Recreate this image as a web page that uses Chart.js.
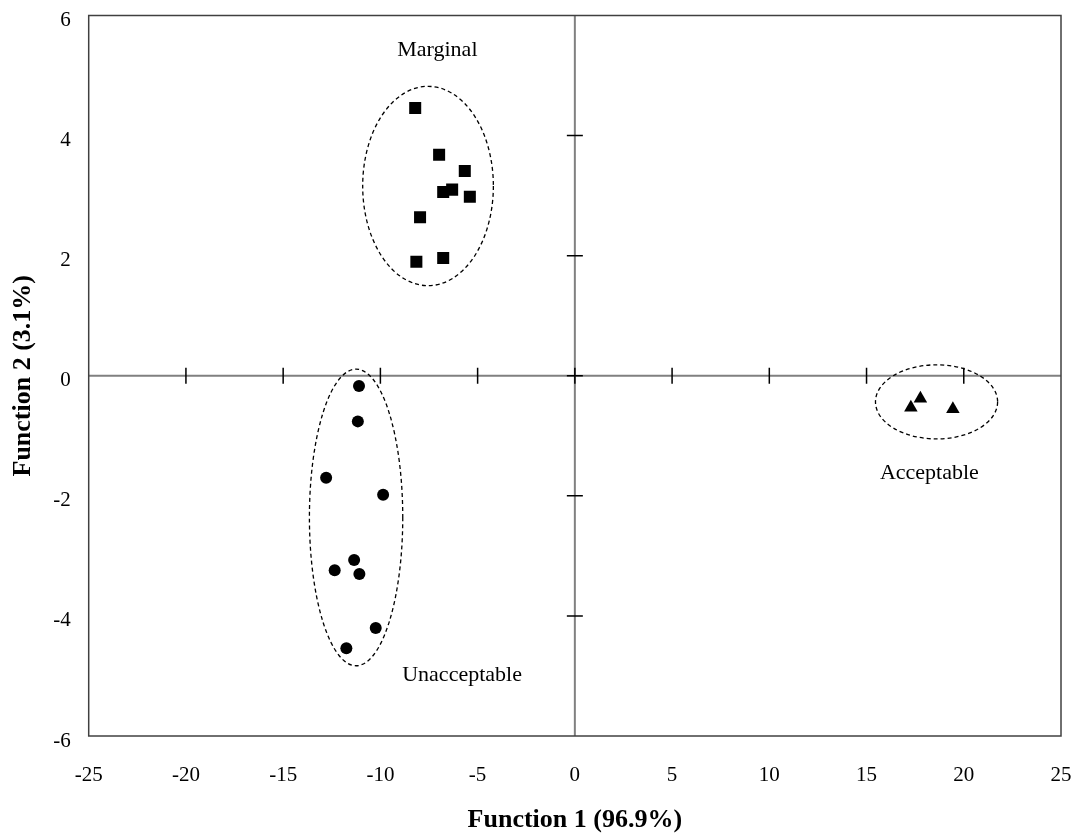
<!DOCTYPE html>
<html>
<head>
<meta charset="utf-8">
<script src="https://cdn.jsdelivr.net/npm/chart.js@4/dist/chart.umd.min.js"></script>
<style>
html,body{margin:0;padding:0;background:#fff;}
canvas{display:block;}
</style>
</head>
<body>
<canvas id="c" width="1077" height="840"></canvas>
<script>
// ---- data ----
const marginalX = [-8.21, -6.98, -5.66, -6.31, -6.77, -5.40, -7.96, -8.15, -6.77];
const marginalY = [4.46, 3.68, 3.41, 3.10, 3.06, 2.98, 2.64, 1.90, 1.96];
const unacceptableX = [-11.10, -11.16, -12.79, -9.86, -11.35, -12.35, -11.08, -10.24, -11.75];
const unacceptableY = [-0.17, -0.76, -1.70, -1.98, -3.07, -3.24, -3.30, -4.20, -4.54];
const acceptableX = [17.28, 17.77, 19.44];
const acceptableY = [-0.53, -0.38, -0.555];

// group ellipses: [centerX, centerY, radiusX, radiusY] in data units
const ellipseMarginal = [-7.55, 3.16, 3.36, 1.66];
const ellipseUnacceptable = [-11.25, -2.36, 2.40, 2.47];
const ellipseAcceptable = [18.60, -0.435, 3.14, 0.617];

// group labels: [text, x, y(baseline)]
const groupLabels = [
  ["Marginal", -7.07, 5.33],
  ["Unacceptable", -5.80, -5.09],
  ["Acceptable", 18.23, -1.72]
];

const xTitle = "Function 1 (96.9%)";
const yTitle = "Function 2 (3.1%)";
const xMin = -25, xMax = 25, xStep = 5;
const yMin = -6, yMax = 6, yStep = 2;

function pts(xs, ys){ return xs.map((x,i)=>({x:x, y:ys[i]})); }

const SERIF = "'Liberation Serif', 'Times New Roman', serif";

const framePlugin = {
  id: 'frame',
  beforeDatasetsDraw(chart){
    const ctx = chart.ctx, a = chart.chartArea;
    const sx = chart.scales.x, sy = chart.scales.y;
    const x0 = sx.getPixelForValue(0), y0 = sy.getPixelForValue(0);
    ctx.save();
    // center lines
    ctx.strokeStyle = '#808080';
    ctx.lineWidth = 2;
    ctx.beginPath();
    ctx.moveTo(a.left, y0); ctx.lineTo(a.right, y0);
    ctx.moveTo(x0, a.top); ctx.lineTo(x0, a.bottom);
    ctx.stroke();
    // ticks on center lines
    ctx.strokeStyle = '#000';
    ctx.lineWidth = 1.5;
    ctx.beginPath();
    sx.ticks.forEach(t => {
      if (t.value <= xMin || t.value >= xMax) return;
      const px = sx.getPixelForValue(t.value);
      ctx.moveTo(px, y0 - 8); ctx.lineTo(px, y0 + 8);
    });
    sy.ticks.forEach(t => {
      if (t.value <= yMin || t.value >= yMax) return;
      const py = sy.getPixelForValue(t.value);
      ctx.moveTo(x0 - 8, py); ctx.lineTo(x0 + 8, py);
    });
    ctx.stroke();
    // frame
    ctx.strokeStyle = '#404040';
    ctx.lineWidth = 1.5;
    ctx.strokeRect(a.left, a.top, a.right - a.left, a.bottom - a.top);
    // ellipses
    ctx.strokeStyle = '#000';
    ctx.lineWidth = 1.3;
    ctx.setLineDash([4, 3]);
    [ellipseMarginal, ellipseUnacceptable, ellipseAcceptable].forEach(e => {
      const cx = sx.getPixelForValue(e[0]);
      const cy = sy.getPixelForValue(e[1]);
      const rx = Math.abs(sx.getPixelForValue(e[0] + e[2]) - cx);
      const ry = Math.abs(sy.getPixelForValue(e[1] + e[3]) - cy);
      ctx.beginPath();
      ctx.ellipse(cx, cy, rx, ry, 0, 0, Math.PI * 2);
      ctx.stroke();
    });
    ctx.setLineDash([]);
    // labels
    ctx.fillStyle = '#000';
    ctx.font = "22px " + SERIF;
    ctx.textAlign = 'center';
    ctx.textBaseline = 'alphabetic';
    groupLabels.forEach(l => {
      ctx.fillText(l[0], sx.getPixelForValue(l[1]), sy.getPixelForValue(l[2]));
    });
    ctx.restore();
  }
};

new Chart(document.getElementById('c'), {
  type: 'scatter',
  data: {
    datasets: [
      { label: 'Marginal', data: pts(marginalX, marginalY), pointStyle: 'rect', pointRadius: 8.5,
        backgroundColor: '#000', borderColor: '#000', borderWidth: 0 },
      { label: 'Unacceptable', data: pts(unacceptableX, unacceptableY), pointStyle: 'circle', pointRadius: 6,
        backgroundColor: '#000', borderColor: '#000', borderWidth: 0 },
      { label: 'Acceptable', data: pts(acceptableX, acceptableY), pointStyle: 'triangle', pointRadius: 7.8,
        backgroundColor: '#000', borderColor: '#000', borderWidth: 0 }
    ]
  },
  options: {
    responsive: false,
    animation: false,
    layout: { padding: { left: 0, right: 16, top: 15.5, bottom: 0 } },
    plugins: { legend: { display: false }, tooltip: { enabled: false } },
    scales: {
      x: {
        type: 'linear', min: xMin, max: xMax,
        grid: { display: false, drawTicks: false },
        border: { display: false },
        ticks: { stepSize: xStep, color: '#000', padding: 27, font: { family: SERIF, size: 21 } },
        title: { display: true, text: xTitle, color: '#000', padding: { top: 0, bottom: 4.5 },
                 font: { family: SERIF, size: 26, weight: 'bold' } },
        afterFit(s){ s.height = 104; s.paddingLeft = 0; s.paddingRight = 0; }
      },
      y: {
        type: 'linear', min: yMin, max: yMax,
        grid: { display: false, drawTicks: false },
        border: { display: false },
        ticks: { stepSize: yStep, color: '#000', padding: 18, labelOffset: 5, font: { family: SERIF, size: 21 } },
        title: { display: true, text: yTitle, color: '#000', padding: { top: 7.5, bottom: 0 },
                 font: { family: SERIF, size: 26, weight: 'bold' } },
        afterFit(s){ s.width = 88.7; s.paddingTop = 0; s.paddingBottom = 0; }
      }
    }
  },
  plugins: [framePlugin]
});
</script>
</body>
</html>
